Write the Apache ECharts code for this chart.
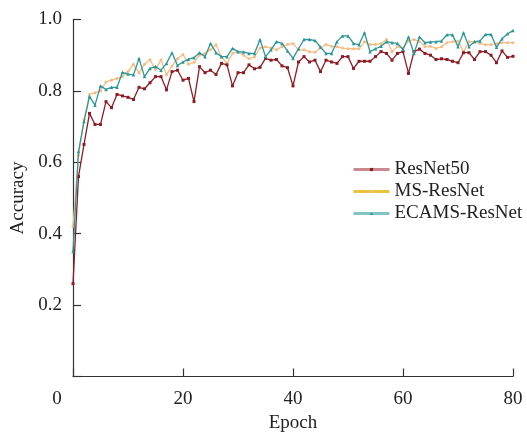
<!DOCTYPE html>
<html>
<head>
<meta charset="utf-8">
<script src="https://cdn.jsdelivr.net/npm/echarts@6/dist/echarts.min.js"></script>
<style>html,body{margin:0;padding:0;background:#fff}#c{width:527px;height:432px}</style>
</head>
<body>
<div id="c"></div>
<script>
var epochs = [0,1,2,3,4,5,6,7,8,9,10,11,12,13,14,15,16,17,18,19,20,21,22,23,24,25,26,27,28,29,30,31,32,33,34,35,36,37,38,39,40,41,42,43,44,45,46,47,48,49,50,51,52,53,54,55,56,57,58,59,60,61,62,63,64,65,66,67,68,69,70,71,72,73,74,75,76,77,78,79,80];
var resnet50 = [0.26,0.56,0.65,0.737,0.706,0.706,0.770,0.753,0.790,0.786,0.782,0.776,0.810,0.806,0.823,0.840,0.840,0.803,0.854,0.858,0.830,0.835,0.770,0.868,0.851,0.858,0.846,0.877,0.873,0.814,0.851,0.851,0.873,0.862,0.866,0.891,0.886,0.888,0.870,0.865,0.814,0.881,0.896,0.881,0.886,0.854,0.886,0.881,0.877,0.896,0.896,0.863,0.883,0.883,0.883,0.896,0.910,0.905,0.886,0.905,0.910,0.849,0.910,0.917,0.905,0.900,0.888,0.890,0.888,0.883,0.879,0.907,0.907,0.888,0.910,0.910,0.900,0.879,0.912,0.894,0.897];
var msResnet = [0.42,0.62,0.72,0.79,0.795,0.80,0.825,0.83,0.835,0.84,0.855,0.875,0.85,0.875,0.887,0.86,0.887,0.845,0.87,0.89,0.902,0.875,0.88,0.90,0.905,0.915,0.929,0.895,0.877,0.905,0.91,0.90,0.89,0.895,0.92,0.924,0.92,0.915,0.924,0.930,0.933,0.915,0.915,0.91,0.908,0.92,0.93,0.925,0.924,0.92,0.918,0.918,0.918,0.938,0.93,0.93,0.933,0.944,0.910,0.924,0.92,0.94,0.944,0.938,0.924,0.925,0.919,0.924,0.935,0.938,0.94,0.910,0.938,0.938,0.933,0.929,0.929,0.933,0.935,0.935,0.935];
var ecamsResnet = [0.35,0.63,0.714,0.784,0.760,0.814,0.804,0.810,0.810,0.852,0.847,0.845,0.891,0.840,0.863,0.868,0.858,0.877,0.907,0.871,0.881,0.889,0.893,0.907,0.896,0.933,0.907,0.896,0.896,0.919,0.910,0.909,0.905,0.905,0.944,0.896,0.915,0.938,0.933,0.912,0.891,0.918,0.944,0.944,0.941,0.923,0.905,0.905,0.938,0.954,0.954,0.933,0.929,0.963,0.910,0.918,0.925,0.938,0.935,0.933,0.916,0.951,0.905,0.951,0.935,0.937,0.938,0.940,0.957,0.957,0.924,0.963,0.924,0.938,0.940,0.958,0.958,0.922,0.946,0.960,0.969];
var seriesNames = ['ResNet50','MS-ResNet','ECAMS-ResNet'];
var xTickLabels = ['0','20','40','60','80'];
var yTickLabels = ['', '0.2', '0.4', '0.6', '0.8', '1.0'];

function pairs(vals){ return epochs.map(function(e,i){ return [e, vals[i]]; }); }

var FONT = 'Liberation Serif';
var FS = 19;
var chart = echarts.init(document.getElementById('c'), null, {renderer:'canvas'});
var colors = ['#8e1c24', '#f4bd85', '#2a9696'];
var legendLine = ['#c98a8e', '#e8c43a', '#82c4c4'];
chart.setOption({
  animation: false,
  backgroundColor: '#fff',
  grid: {left: 73, right: 14, top: 19.5, bottom: 55.5, containLabel: false, outerBoundsMode: 'none'},
  legend: {
    orient: 'vertical', left: 347, top: 155, itemWidth: 36, itemHeight: 4, itemGap: 3,
    textStyle: {fontFamily: FONT, fontSize: FS, color: '#222', lineHeight: 19},
    data: seriesNames.map(function(n,i){ return {name: n, lineStyle: {color: legendLine[i], width: 3}, itemStyle: {color: colors[i]}}; })
  },
  xAxis: {
    type: 'value', min: 0, max: 80, interval: 20,
    name: 'Epoch', nameLocation: 'middle', nameGap: 36,
    nameTextStyle: {fontFamily: FONT, fontSize: FS, color: '#222'},
    axisLine: {lineStyle: {color: '#333', width: 1.2}},
    axisTick: {inside: true, length: 8, lineStyle: {color: '#333', width: 1.2}},
    axisLabel: {
      margin: 13, fontFamily: FONT, fontSize: FS, color: '#222',
      formatter: function(v){ var s = xTickLabels[Math.round(v/20)]; return v === 0 ? '{z|' + s + '}' : s; },
      rich: {z: {fontFamily: FONT, fontSize: FS, color: '#222', padding: [0, 32, 0, 0]}}
    },
    splitLine: {show: false}
  },
  yAxis: {
    type: 'value', min: 0, max: 1, interval: 0.2,
    name: 'Accuracy', nameLocation: 'middle', nameGap: 45, nameRotate: 90,
    nameTextStyle: {fontFamily: FONT, fontSize: FS, color: '#222'},
    axisLine: {show: true, lineStyle: {color: '#333', width: 1.2}},
    axisTick: {inside: true, length: 8, lineStyle: {color: '#333', width: 1.2}},
    axisLabel: {
      margin: 11, fontFamily: FONT, fontSize: FS, color: '#222',
      formatter: function(v){ return yTickLabels[Math.round(v/0.2)]; }
    },
    splitLine: {show: false}
  },
  series: [
    {name: seriesNames[0], type: 'line', data: pairs(resnet50), symbol: 'rect', symbolSize: 3, showSymbol: true,
     lineStyle: {color: colors[0], width: 1.3}, itemStyle: {color: colors[0]}, z: 3},
    {name: seriesNames[1], type: 'line', data: pairs(msResnet), symbol: 'circle', symbolSize: 3, showSymbol: true,
     lineStyle: {color: colors[1], width: 1.3}, itemStyle: {color: colors[1]}, z: 2},
    {name: seriesNames[2], type: 'line', data: pairs(ecamsResnet), symbol: 'triangle', symbolSize: 3.5, showSymbol: true,
     lineStyle: {color: colors[2], width: 1.3}, itemStyle: {color: colors[2]}, z: 4}
  ]
});
</script>
</body>
</html>
